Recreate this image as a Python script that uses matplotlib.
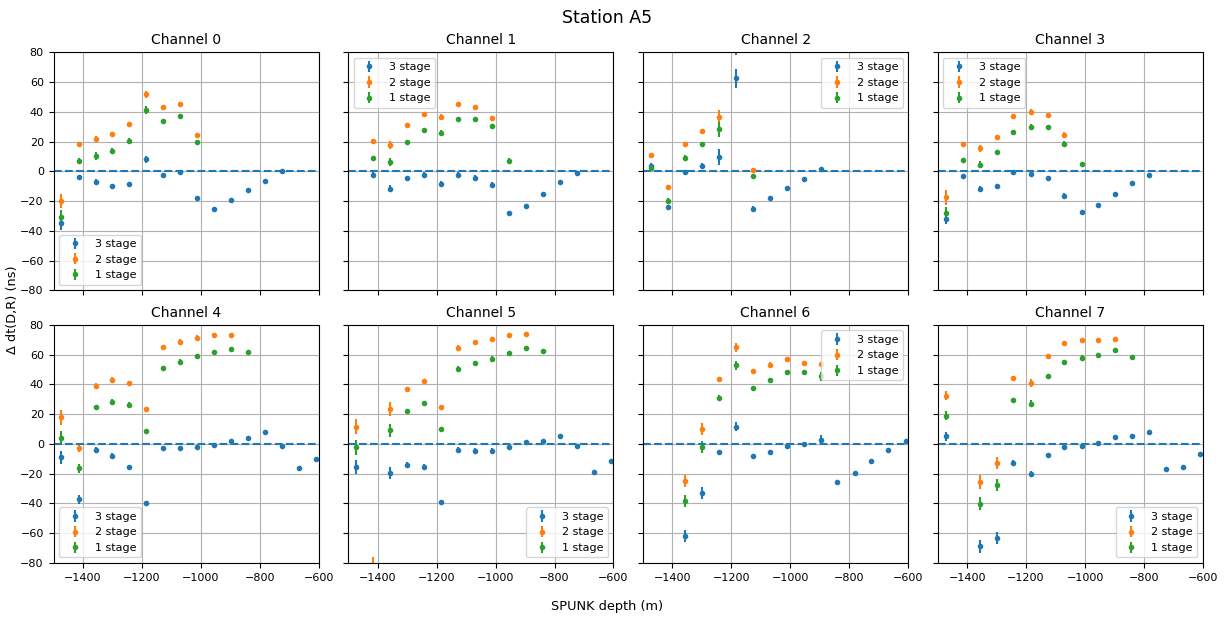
import numpy as np
import matplotlib
matplotlib.use("Agg")
import matplotlib.pyplot as plt

nan = np.nan

depths = [-1473, -1415, -1357, -1300, -1243, -1185, -1127, -1070,
          -1012, -955, -897, -840, -782, -725, -667, -609]

channels = ["Channel 0", "Channel 1", "Channel 2", "Channel 3",
            "Channel 4", "Channel 5", "Channel 6", "Channel 7"]
stage_labels = ["3 stage", "2 stage", "1 stage"]

# ---- 3 stage ----
ch0_s3 = [-34.9, -3.8, -7.4, -9.8, -8.5, 8.0, -2.7, -0.7, -17.9, -25.0, -19.0, -12.5, -6.3, 0.0, nan, nan]
ch1_s3 = [nan, -2.2, -11.6, -4.7, -2.2, -8.5, -2.2, -4.2, -8.9, -27.7, -23.0, -15.2, -7.4, -1.1, nan, nan]
ch2_s3 = [3.8, -24.1, -0.4, 3.8, 9.8, 62.6, -25.0, -17.9, -11.2, -4.9, 1.8, nan, nan, nan, nan, nan]
ch3_s3 = [-31.7, -3.4, -12.1, -9.8, -0.7, -1.6, -4.5, -16.8, -27.3, -22.6, -15.2, -7.8, -2.2, nan, nan, nan]
ch4_s3 = [-9.0, -37.3, -4.3, -7.9, -15.7, -40.0, -2.9, -2.9, -2.2, -0.7, 2.0, 4.0, 8.3, -1.1, -16.4, -10.1]
ch5_s3 = [-15.5, nan, -19.3, -14.2, -15.3, -39.3, -3.8, -4.5, -4.5, -2.2, 1.3, 1.8, 5.2, -1.1, -18.7, -11.7]
ch6_s3 = [nan, nan, -61.6, -33.0, -5.4, 11.5, -8.1, -5.4, -1.1, 0.0, 2.7, -25.6, -19.6, -11.7, -4.3, 2.0]
ch7_s3 = [5.2, nan, -68.8, -63.4, -12.6, -20.4, -7.4, -1.8, -1.1, 0.4, 4.7, 5.6, 8.3, -16.9, -15.3, -7.0]

# ---- 2 stage ----
ch0_s2 = [-19.9, 18.5, 21.7, 25.0, 31.7, 51.8, 43.1, 45.1, 24.4, nan, nan, nan, nan, nan, nan, nan]
ch1_s2 = [nan, 20.1, 17.7, 31.1, 38.4, 36.4, 45.1, 43.1, 35.8, nan, nan, nan, nan, nan, nan, nan]
ch2_s2 = [10.7, -10.7, 18.1, 26.8, 36.2, 95.0, 0.7, nan, nan, nan, nan, nan, nan, nan, nan, nan]
ch3_s2 = [-17.4, 18.5, 15.4, 23.2, 36.9, 39.6, 37.8, 24.4, nan, nan, nan, nan, nan, nan, nan, nan]
ch4_s2 = [17.8, -2.5, 38.7, 42.9, 41.1, 23.6, 65.2, 68.8, 71.5, 73.5, 73.0, nan, nan, nan, nan, nan]
ch5_s2 = [11.5, -83.0, 23.6, 36.6, 42.2, 24.5, 64.7, 68.3, 70.3, 73.0, 74.2, nan, nan, nan, nan, nan]
ch6_s2 = [nan, nan, -25.2, 10.3, 43.8, 64.9, 49.0, 53.3, 56.9, 54.4, 54.0, nan, nan, nan, nan, nan]
ch7_s2 = [32.4, nan, -25.6, -13.0, 44.0, 41.1, 58.9, 67.9, 69.9, 69.9, 70.3, nan, nan, nan, nan, nan]

# ---- 1 stage ----
ch0_s1 = [-30.8, 7.2, 10.3, 13.9, 20.6, 41.3, 33.7, 37.3, 19.7, nan, nan, nan, nan, nan, nan, nan]
ch1_s1 = [nan, 8.7, 6.3, 19.7, 27.5, 25.9, 35.3, 34.9, 30.2, 7.2, nan, nan, nan, nan, nan, nan]
ch2_s1 = [2.2, -19.7, 9.2, 18.5, 28.4, 82.0, -3.4, nan, nan, nan, nan, nan, nan, nan, nan, nan]
ch3_s1 = [-27.7, 7.6, 4.5, 13.0, 26.4, 29.5, 29.5, 18.1, 5.1, nan, nan, nan, nan, nan, nan, nan]
ch4_s1 = [4.0, -16.4, 24.5, 28.3, 26.5, 8.8, 51.0, 55.3, 58.9, 62.0, 64.0, 62.0, nan, nan, nan, nan]
ch5_s1 = [-2.2, nan, 9.2, 21.8, 27.6, 9.7, 50.6, 54.2, 57.3, 61.1, 64.7, 62.2, nan, nan, nan, nan]
ch6_s1 = [nan, nan, -38.4, -2.2, 31.2, 52.8, 37.5, 42.9, 48.1, 48.1, 45.6, nan, nan, nan, nan, nan]
ch7_s1 = [19.1, nan, -40.2, -27.4, 29.7, 27.0, 45.4, 54.8, 58.0, 60.0, 63.1, 58.4, nan, nan, nan, nan]

# ---- uncertainties (ns) ----
ch0_s3_err = [4.5, 1.5, 2.0, 1.5, 1.5, 2.5, 1.5, 1.5, 1.0, 1.0, 1.0, 1.0, 1.0, 1.0, 1.0, 1.0]
ch1_s3_err = [1.0, 1.5, 2.5, 1.5, 1.5, 2.0, 1.5, 1.5, 1.5, 1.0, 1.0, 1.0, 1.0, 1.0, 1.0, 1.0]
ch2_s3_err = [2.0, 1.5, 1.5, 1.5, 5.5, 6.5, 1.5, 1.5, 1.0, 1.0, 1.0, 1.0, 1.0, 1.0, 1.0, 1.0]
ch3_s3_err = [4.0, 1.5, 2.0, 1.5, 1.5, 1.5, 1.5, 2.0, 1.0, 1.0, 1.0, 1.0, 1.0, 1.0, 1.0, 1.0]
ch4_s3_err = [4.5, 3.0, 2.0, 1.5, 1.5, 1.5, 1.5, 1.5, 1.5, 1.0, 1.0, 1.0, 1.0, 1.0, 1.0, 1.0]
ch5_s3_err = [5.0, 1.0, 4.0, 2.0, 1.5, 1.5, 1.5, 1.5, 1.5, 1.0, 1.0, 1.0, 1.0, 1.0, 1.0, 1.0]
ch6_s3_err = [1.0, 1.0, 4.0, 4.0, 1.5, 3.0, 1.5, 1.5, 1.5, 1.0, 3.0, 1.0, 1.0, 1.0, 1.0, 1.5]
ch7_s3_err = [3.0, 1.0, 4.5, 4.0, 1.5, 2.0, 1.5, 1.5, 1.5, 1.0, 1.0, 1.0, 1.0, 1.0, 1.0, 1.0]

ch0_s2_err = [4.5, 1.5, 2.0, 1.5, 1.5, 2.5, 1.5, 1.5, 1.5, 1.0, 1.0, 1.0, 1.0, 1.0, 1.0, 1.0]
ch1_s2_err = [1.0, 1.5, 2.5, 1.5, 1.5, 2.0, 1.5, 1.5, 1.5, 1.0, 1.0, 1.0, 1.0, 1.0, 1.0, 1.0]
ch2_s2_err = [1.5, 1.5, 1.5, 1.5, 5.0, 4.0, 1.5, 1.0, 1.0, 1.0, 1.0, 1.0, 1.0, 1.0, 1.0, 1.0]
ch3_s2_err = [5.0, 1.5, 2.5, 1.5, 1.5, 2.0, 1.5, 2.0, 1.0, 1.0, 1.0, 1.0, 1.0, 1.0, 1.0, 1.0]
ch4_s2_err = [5.0, 3.0, 2.0, 2.0, 1.5, 1.5, 1.5, 1.5, 1.5, 1.0, 1.0, 1.0, 1.0, 1.0, 1.0, 1.0]
ch5_s2_err = [5.0, 7.0, 4.5, 2.0, 1.5, 1.5, 1.5, 1.5, 1.5, 1.0, 1.0, 1.0, 1.0, 1.0, 1.0, 1.0]
ch6_s2_err = [1.0, 1.0, 4.0, 4.0, 1.5, 3.0, 1.5, 1.5, 1.5, 1.0, 1.0, 1.0, 1.0, 1.0, 1.0, 1.0]
ch7_s2_err = [3.0, 1.0, 5.0, 4.0, 1.5, 2.5, 1.5, 1.5, 1.5, 1.0, 1.0, 1.0, 1.0, 1.0, 1.0, 1.0]

ch0_s1_err = [4.5, 1.5, 2.5, 1.5, 1.5, 2.5, 1.5, 1.5, 1.5, 1.0, 1.0, 1.0, 1.0, 1.0, 1.0, 1.0]
ch1_s1_err = [1.0, 1.5, 2.5, 1.5, 1.5, 2.0, 1.5, 1.5, 1.5, 1.5, 1.0, 1.0, 1.0, 1.0, 1.0, 1.0]
ch2_s1_err = [1.5, 1.5, 1.5, 1.5, 5.0, 4.0, 1.5, 1.0, 1.0, 1.0, 1.0, 1.0, 1.0, 1.0, 1.0, 1.0]
ch3_s1_err = [4.0, 1.5, 2.5, 1.5, 1.5, 2.0, 1.5, 2.0, 1.5, 1.0, 1.0, 1.0, 1.0, 1.0, 1.0, 1.0]
ch4_s1_err = [5.0, 3.0, 2.0, 2.0, 1.5, 1.5, 1.5, 1.5, 1.5, 1.0, 1.0, 1.0, 1.0, 1.0, 1.0, 1.0]
ch5_s1_err = [5.0, 1.0, 4.5, 2.0, 1.5, 1.5, 1.5, 1.5, 1.5, 1.0, 1.0, 1.0, 1.0, 1.0, 1.0, 1.0]
ch6_s1_err = [1.0, 1.0, 4.0, 4.0, 1.5, 3.0, 1.5, 1.5, 1.5, 1.0, 3.0, 1.0, 1.0, 1.0, 1.0, 1.0]
ch7_s1_err = [3.0, 1.0, 4.5, 4.0, 1.5, 2.5, 1.5, 1.5, 1.5, 1.0, 1.0, 1.0, 1.0, 1.0, 1.0, 1.0]

stage3 = [ch0_s3, ch1_s3, ch2_s3, ch3_s3, ch4_s3, ch5_s3, ch6_s3, ch7_s3]
stage2 = [ch0_s2, ch1_s2, ch2_s2, ch3_s2, ch4_s2, ch5_s2, ch6_s2, ch7_s2]
stage1 = [ch0_s1, ch1_s1, ch2_s1, ch3_s1, ch4_s1, ch5_s1, ch6_s1, ch7_s1]
stage3_err = [ch0_s3_err, ch1_s3_err, ch2_s3_err, ch3_s3_err, ch4_s3_err, ch5_s3_err, ch6_s3_err, ch7_s3_err]
stage2_err = [ch0_s2_err, ch1_s2_err, ch2_s2_err, ch3_s2_err, ch4_s2_err, ch5_s2_err, ch6_s2_err, ch7_s2_err]
stage1_err = [ch0_s1_err, ch1_s1_err, ch2_s1_err, ch3_s1_err, ch4_s1_err, ch5_s1_err, ch6_s1_err, ch7_s1_err]

legend_locs = ["lower left", "upper left", "upper right", "upper left",
               "lower left", "lower right", "upper right", "lower right"]

plt.rcParams['xtick.labelsize'] = 8
plt.rcParams['ytick.labelsize'] = 8

fig, axes = plt.subplots(2, 4, figsize=(12.3, 6.2), dpi=100, sharex=True, sharey=True)
fig.subplots_adjust(left=0.0435, right=0.978, top=0.9156, bottom=0.092,
                    wspace=0.111, hspace=0.145)

x = np.array(depths, dtype=float)
for i, ax in enumerate(axes.flat):
    for vals, errs, lab, col in zip((stage3[i], stage2[i], stage1[i]),
                                    (stage3_err[i], stage2_err[i], stage1_err[i]),
                                    stage_labels, ("C0", "C1", "C2")):
        ax.errorbar(x, np.array(vals, dtype=float), yerr=np.array(errs, dtype=float),
                    fmt='.', color=col, label=lab, markersize=6)
    ax.axhline(0, ls='--', color='C0')
    ax.grid(True)
    ax.set_title(channels[i], fontsize=10)
    ax.set_xlim(-1500, -600)
    ax.set_ylim(-80, 80)
    ax.legend(loc=legend_locs[i], fontsize=8)

fig.suptitle("Station A5", fontsize=12.5, x=0.4935, y=0.985)
fig.supxlabel("SPUNK depth (m)", fontsize=9.3, x=0.4935, y=0.012)
fig.supylabel("Δ dt(D,R) (ns)", fontsize=9.3, x=0.005)

fig.savefig("out.png", dpi=100)
